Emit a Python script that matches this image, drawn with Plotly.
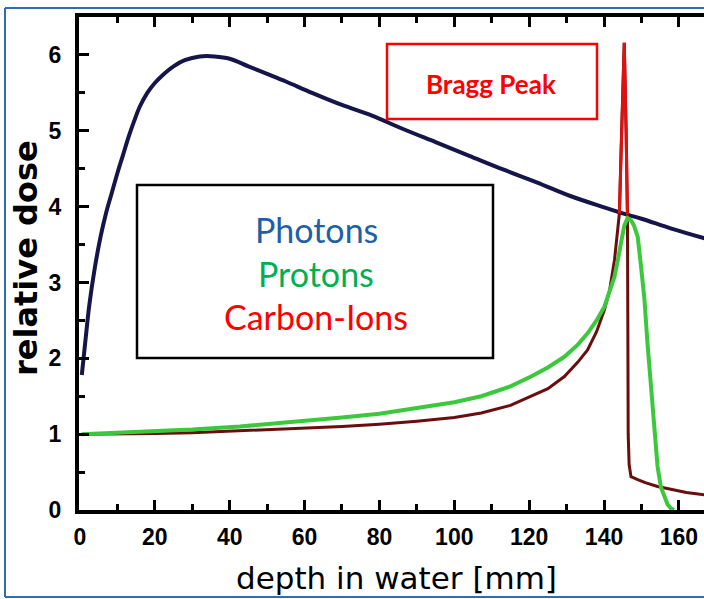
import plotly.graph_objects as go

# ---- data ----
photon_depth = [0.5, 1.5, 2.5, 4, 5.5, 7, 8.5, 10, 11.5, 13, 14.5, 16, 18, 20, 22, 25, 28, 32, 36, 40, 45,
                50, 55, 62, 70, 78, 86, 95, 104, 113, 122, 131, 140, 145, 150, 158, 167]
photon_dose = [1.78, 2.25, 2.7, 3.2, 3.6, 3.92, 4.18, 4.44, 4.68, 4.92, 5.13, 5.32, 5.5, 5.63, 5.73, 5.85,
               5.93, 5.98, 5.98, 5.95, 5.85, 5.75, 5.65, 5.5, 5.34, 5.2, 5.03, 4.85, 4.67, 4.49, 4.32,
               4.14, 3.99, 3.91, 3.84, 3.71, 3.58]

proton_depth = [0.5, 10, 20, 30, 42.7, 50, 62.2, 70, 80, 90, 100, 107.2, 115, 120.5, 125, 129.4, 133,
                135.6, 138, 140.1, 141.5, 142.8, 143.7, 144.5, 145.4, 146.3, 147.2, 148, 149, 149.9,
                150.8, 151.6, 152.5, 153.4, 154.3, 155.2, 156.1, 157, 157.9, 158.7]
proton_dose = [1.0, 1.02, 1.04, 1.06, 1.10, 1.13, 1.19, 1.22, 1.27, 1.34, 1.42, 1.50, 1.63, 1.76, 1.88,
               2.02, 2.18, 2.33, 2.5, 2.68, 2.88, 3.08, 3.3, 3.52, 3.75, 3.85, 3.82, 3.75, 3.6, 3.2,
               2.77, 2.2, 1.67, 1.1, 0.57, 0.3, 0.18, 0.07, 0.02, 0.0]

carbon_depth = [0.5, 10, 20, 30, 40, 50, 60, 70, 80, 90, 100, 107.2, 115, 120.5, 125, 129.4, 133,
                135.6, 138, 140.1, 141.5, 142.8, 143.5, 144.1, 144.7, 145.4, 145.9, 146.25, 146.35,
                146.45, 146.7, 147.2, 149, 151, 154.3, 158, 162, 166.8]
carbon_dose = [1.0, 1.0, 1.01, 1.02, 1.04, 1.06, 1.08, 1.1, 1.13, 1.17, 1.22, 1.28, 1.38, 1.50, 1.60,
               1.76, 1.95, 2.11, 2.35, 2.64, 2.9, 3.30, 3.6, 3.91, 5.0, 6.16, 5.0, 3.9, 2.5, 1.0,
               0.6, 0.44, 0.4, 0.36, 0.31, 0.27, 0.23, 0.2]

x_ticks = [0, 20, 40, 60, 80, 100, 120, 140, 160]
y_ticks = [0, 1, 2, 3, 4, 5, 6]
legend_lines = ["Photons", "Protons", "Carbon-Ions"]
legend_colors = ["#1f5fa3", "#00b050", "#ff0000"]

W, H = 704, 599
ML, MR, MT, MB = 79, 0, 17, 89
PW, PH = W - ML - MR, H - MT - MB


def px(x):
    return (x - ML) / PW


def py(y):
    return (H - MB - y) / PH


fig = go.Figure()
fig.add_trace(go.Scatter(x=photon_depth, y=photon_dose, mode="lines",
                         line=dict(color="#15154a", width=4, shape="spline", smoothing=1.0), hoverinfo="skip"))
fig.add_trace(go.Scatter(x=carbon_depth, y=carbon_dose, mode="lines", line=dict(color="#6a0d0d", width=3), hoverinfo="skip"))
fig.add_trace(go.Scatter(x=proton_depth, y=proton_dose, mode="lines", line=dict(color="#3cc83c", width=4), hoverinfo="skip"))
# red Bragg spike of the carbon curve
peak_idx = [i for i, d in enumerate(carbon_depth) if 144.1 <= d <= 146.25]
fig.add_trace(go.Scatter(x=[carbon_depth[i] for i in peak_idx], y=[carbon_dose[i] for i in peak_idx],
                         mode="lines", line=dict(color="#e01010", width=3), hoverinfo="skip"))

tickfont = dict(family="Liberation Sans, Arial", size=23, color="black", weight="bold")
fig.update_xaxes(range=[-0.25, 166.7], tickvals=x_ticks, ticktext=[str(v) for v in x_ticks],
                 ticks="inside", ticklen=10, tickwidth=3, tickcolor="black",
                 minor=dict(dtick=10, ticks="inside", ticklen=6, tickwidth=3, tickcolor="black"),
                 showline=True, linewidth=4, linecolor="black", mirror="ticks",
                 showgrid=False, zeroline=False, tickfont=tickfont, ticklabelstandoff=3)
fig.update_yaxes(range=[0, 6.5], tickvals=y_ticks, ticktext=[str(v) for v in y_ticks],
                 ticks="inside", ticklen=10, tickwidth=3, tickcolor="black",
                 minor=dict(dtick=0.5, ticks="inside", ticklen=6, tickwidth=3, tickcolor="black"),
                 showline=True, linewidth=4, linecolor="black", mirror=False,
                 showgrid=False, zeroline=False, tickfont=tickfont, ticklabelstandoff=9)

shapes = [
    dict(type="rect", xref="paper", yref="paper", x0=px(137), x1=px(493), y0=py(358), y1=py(185),
         line=dict(color="black", width=2.5), fillcolor="rgba(0,0,0,0)"),
    dict(type="rect", xref="paper", yref="paper", x0=px(387), x1=px(597), y0=py(119), y1=py(44),
         line=dict(color="#ff0000", width=2.5), fillcolor="rgba(0,0,0,0)"),
    # blue outer frame (right side is cut off in the reference)
    dict(type="line", xref="paper", yref="paper", x0=px(5), x1=px(5), y0=py(597), y1=py(8),
         line=dict(color="#2e6db4", width=2)),
    dict(type="line", xref="paper", yref="paper", x0=px(5), x1=px(710), y0=py(8), y1=py(8),
         line=dict(color="#2e6db4", width=2)),
    dict(type="line", xref="paper", yref="paper", x0=px(5), x1=px(710), y0=py(597), y1=py(597),
         line=dict(color="#2e6db4", width=2)),
]

annotations = []
for i, (t, c) in enumerate(zip(legend_lines, legend_colors)):
    annotations.append(dict(text=t, xref="paper", yref="paper", x=px(316), y=py(229 + 44 * i),
                            xanchor="center", yanchor="middle", showarrow=False,
                            font=dict(family="Lato", size=34, color=c)))
annotations.append(dict(text="Bragg Peak", xref="paper", yref="paper", x=px(491), y=py(84),
                        xanchor="center", yanchor="middle", showarrow=False,
                        font=dict(family="Lato", size=26, color="#ff0000", weight="bold")))
annotations.append(dict(text="depth in water [mm]", xref="paper", yref="paper", x=px(396), y=py(578),
                        xanchor="center", yanchor="middle", showarrow=False,
                        font=dict(family="DejaVu Sans", size=31, color="black")))
annotations.append(dict(text="relative dose", xref="paper", yref="paper", x=px(26), y=py(258),
                        xanchor="center", yanchor="middle", showarrow=False, textangle=-90,
                        font=dict(family="DejaVu Sans", size=32, color="black", weight="bold")))

fig.update_layout(width=W, height=H, margin=dict(l=ML, r=MR, t=MT, b=MB, pad=0),
                  paper_bgcolor="white", plot_bgcolor="white", showlegend=False,
                  shapes=shapes, annotations=annotations)

fig.write_html("out.html")
